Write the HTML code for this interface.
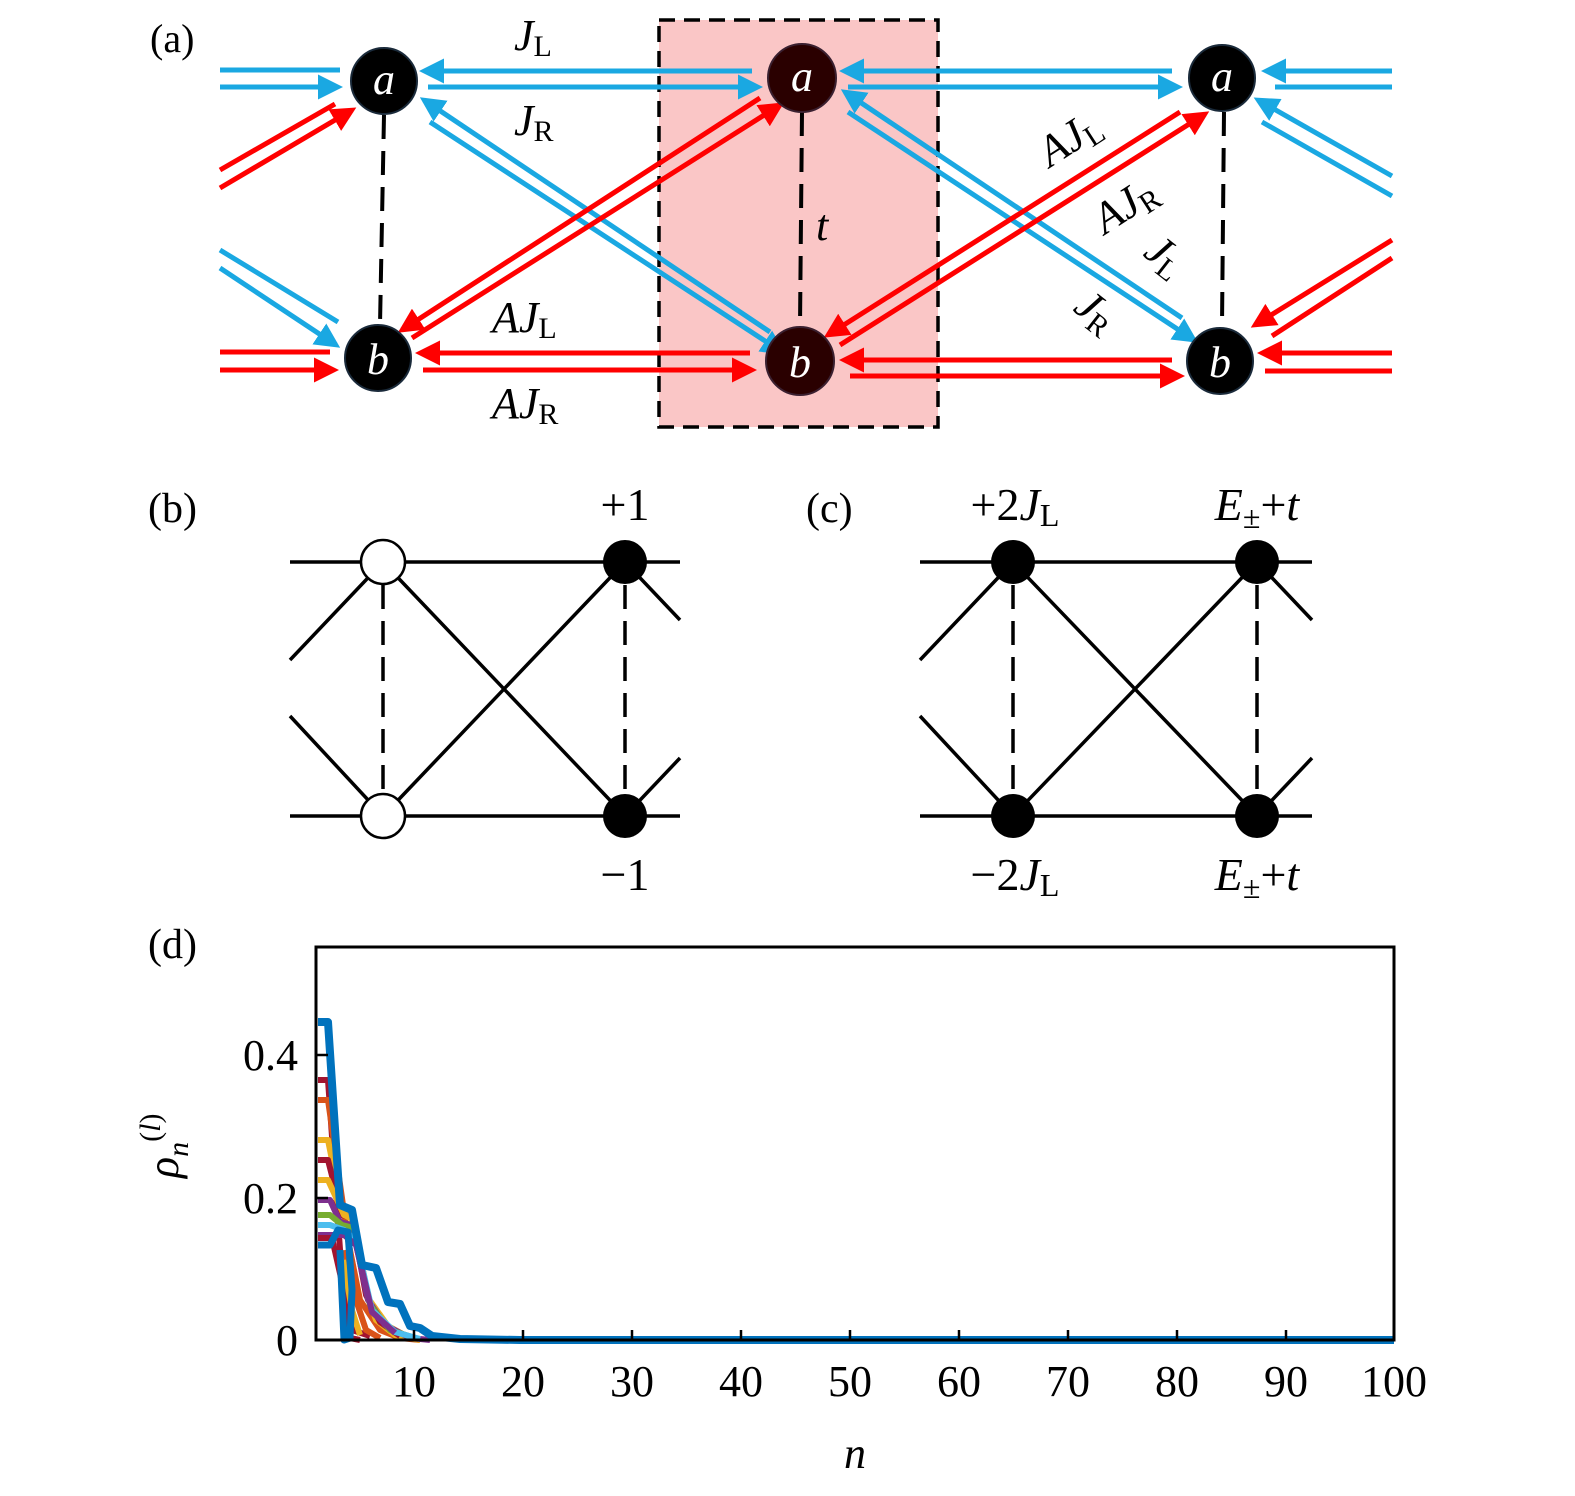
<!DOCTYPE html>
<html><head><meta charset="utf-8"><style>
html,body{margin:0;padding:0;background:#fff}
svg{display:block}
text{font-family:"Liberation Serif",serif;fill:#000}
.it{font-style:italic}
</style></head><body>
<svg width="1575" height="1496" viewBox="0 0 1575 1496" xmlns="http://www.w3.org/2000/svg">
<defs>
<marker id="hb" markerWidth="5" markerHeight="5" refX="4" refY="2.5" orient="auto" markerUnits="strokeWidth"><path d="M0,0 L5,2.5 L0,5 Z" fill="#1aa8e2"/></marker>
<marker id="hr" markerWidth="5" markerHeight="5" refX="4" refY="2.5" orient="auto" markerUnits="strokeWidth"><path d="M0,0 L5,2.5 L0,5 Z" fill="#f00"/></marker>
</defs>
<rect x="659" y="20" width="279" height="407" fill="#fac6c6" stroke="#000" stroke-width="3.5" stroke-dasharray="16,9"/>
<g stroke-width="5" fill="none">
<g stroke="#1aa8e2">
<line x1="220" y1="70" x2="340" y2="70"/>
<line x1="220" y1="87" x2="338" y2="87" marker-end="url(#hb)"/>
<line x1="752" y1="71" x2="424" y2="71" marker-end="url(#hb)"/>
<line x1="428" y1="87" x2="758" y2="87" marker-end="url(#hb)"/>
<line x1="1172" y1="71" x2="844" y2="71" marker-end="url(#hb)"/>
<line x1="848" y1="87" x2="1178" y2="87" marker-end="url(#hb)"/>
<line x1="1392" y1="71" x2="1266" y2="71" marker-end="url(#hb)"/>
<line x1="1392" y1="87" x2="1275" y2="87"/>
<line x1="770" y1="332" x2="424" y2="100" marker-end="url(#hb)"/>
<line x1="430" y1="122" x2="782" y2="352" marker-end="url(#hb)"/>
<line x1="1182" y1="318" x2="845" y2="92" marker-end="url(#hb)"/>
<line x1="848" y1="112" x2="1194" y2="340" marker-end="url(#hb)"/>
<line x1="1392" y1="176" x2="1258" y2="100" marker-end="url(#hb)"/>
<line x1="1392" y1="196" x2="1262" y2="122"/>
<line x1="220" y1="250" x2="338" y2="322"/>
<line x1="220" y1="268" x2="336" y2="345" marker-end="url(#hb)"/>
</g>
<g stroke="#f00">
<line x1="220" y1="352" x2="330" y2="352"/>
<line x1="220" y1="370" x2="334" y2="370" marker-end="url(#hr)"/>
<line x1="750" y1="353" x2="420" y2="353" marker-end="url(#hr)"/>
<line x1="423" y1="370" x2="752" y2="370" marker-end="url(#hr)"/>
<line x1="1172" y1="360" x2="844" y2="360" marker-end="url(#hr)"/>
<line x1="850" y1="376" x2="1180" y2="376" marker-end="url(#hr)"/>
<line x1="1392" y1="353" x2="1262" y2="353" marker-end="url(#hr)"/>
<line x1="1392" y1="371" x2="1265" y2="371"/>
<line x1="760" y1="98" x2="402" y2="330" marker-end="url(#hr)"/>
<line x1="412" y1="338" x2="780" y2="105" marker-end="url(#hr)"/>
<line x1="1180" y1="112" x2="828" y2="335" marker-end="url(#hr)"/>
<line x1="840" y1="345" x2="1205" y2="114" marker-end="url(#hr)"/>
<line x1="220" y1="170" x2="335" y2="104"/>
<line x1="220" y1="188" x2="352" y2="110" marker-end="url(#hr)"/>
<line x1="1392" y1="240" x2="1255" y2="325" marker-end="url(#hr)"/>
<line x1="1392" y1="258" x2="1272" y2="336"/>
</g>
</g>
<g stroke="#000" stroke-width="4" stroke-dasharray="24,12">
<line x1="384" y1="115" x2="380" y2="325"/>
<line x1="802" y1="112" x2="800" y2="326"/>
<line x1="1224" y1="112" x2="1222" y2="326"/>
</g>
<g stroke="#1a2a3a" stroke-width="2">
<circle cx="384" cy="81" r="33" fill="#000"/>
<circle cx="802" cy="78" r="34" fill="#2a0000" stroke="#3a2030"/>
<circle cx="1222" cy="78" r="33" fill="#000"/>
<circle cx="378" cy="358" r="33" fill="#000"/>
<circle cx="800" cy="361" r="34" fill="#2a0000" stroke="#3a2030"/>
<circle cx="1220" cy="361" r="33" fill="#000"/>
</g>
<g font-size="44" class="it" text-anchor="middle">
<text x="384" y="94" style="fill:#fff">a</text>
<text x="802" y="91" style="fill:#fff">a</text>
<text x="1222" y="91" style="fill:#fff">a</text>
<text x="378" y="374" style="fill:#fff">b</text>
<text x="800" y="377" style="fill:#fff">b</text>
<text x="1220" y="377" style="fill:#fff">b</text>
</g>
<text x="150" y="52" font-size="40">(a)</text>
<g font-size="44">
<text x="514" y="50"><tspan class="it">J</tspan><tspan font-size="30" dy="6">L</tspan></text>
<text x="514" y="135"><tspan class="it">J</tspan><tspan font-size="30" dy="6">R</tspan></text>
<text x="492" y="332"><tspan class="it">AJ</tspan><tspan font-size="30" dy="6">L</tspan></text>
<text x="492" y="418"><tspan class="it">AJ</tspan><tspan font-size="30" dy="6">R</tspan></text>
<text x="816" y="240" class="it">t</text>
<text transform="translate(1050,168) rotate(-33)"><tspan class="it">AJ</tspan><tspan font-size="30" dy="6">L</tspan></text>
<text transform="translate(1105,235) rotate(-33)"><tspan class="it">AJ</tspan><tspan font-size="30" dy="6">R</tspan></text>
<text transform="translate(1142,255) rotate(38)"><tspan class="it">J</tspan><tspan font-size="30" dy="6">L</tspan></text>
<text transform="translate(1072,310) rotate(38)"><tspan class="it">J</tspan><tspan font-size="30" dy="6">R</tspan></text>
</g>
<text x="148" y="522" font-size="42">(b)</text>
<g stroke="#000" stroke-width="3.5" fill="none">
<line x1="290" y1="562" x2="680" y2="562"/>
<line x1="290" y1="816" x2="680" y2="816"/>
<line x1="383" y1="562" x2="625" y2="816"/>
<line x1="625" y1="562" x2="383" y2="816"/>
<line x1="383" y1="562" x2="290" y2="660"/>
<line x1="383" y1="816" x2="290" y2="716"/>
<line x1="625" y1="562" x2="680" y2="620"/>
<line x1="625" y1="816" x2="680" y2="758"/>
<line x1="383" y1="585" x2="383" y2="793" stroke-dasharray="24,12"/>
<line x1="625" y1="585" x2="625" y2="793" stroke-dasharray="24,12"/>
</g>
<circle cx="383" cy="562" r="22" fill="#fff" stroke="#000" stroke-width="2.5"/>
<circle cx="383" cy="816" r="22" fill="#fff" stroke="#000" stroke-width="2.5"/>
<circle cx="625" cy="562" r="22" fill="#000"/>
<circle cx="625" cy="816" r="22" fill="#000"/>
<text x="625" y="520" font-size="46" text-anchor="middle">+1</text>
<text x="625" y="890" font-size="46" text-anchor="middle">−1</text>
<text x="806" y="522" font-size="42">(c)</text>
<g stroke="#000" stroke-width="3.5" fill="none">
<line x1="920" y1="562" x2="1312" y2="562"/>
<line x1="920" y1="816" x2="1312" y2="816"/>
<line x1="1013" y1="562" x2="1257" y2="816"/>
<line x1="1257" y1="562" x2="1013" y2="816"/>
<line x1="1013" y1="562" x2="920" y2="660"/>
<line x1="1013" y1="816" x2="920" y2="716"/>
<line x1="1257" y1="562" x2="1312" y2="620"/>
<line x1="1257" y1="816" x2="1312" y2="758"/>
<line x1="1013" y1="585" x2="1013" y2="793" stroke-dasharray="24,12"/>
<line x1="1257" y1="585" x2="1257" y2="793" stroke-dasharray="24,12"/>
</g>
<circle cx="1013" cy="562" r="22" fill="#000"/>
<circle cx="1013" cy="816" r="22" fill="#000"/>
<circle cx="1257" cy="562" r="22" fill="#000"/>
<circle cx="1257" cy="816" r="22" fill="#000"/>
<g font-size="46" text-anchor="middle">
<text x="1015" y="520">+2<tspan class="it">J</tspan><tspan font-size="32" dy="6">L</tspan></text>
<text x="1257" y="520"><tspan class="it">E</tspan><tspan font-size="32" dy="8">±</tspan><tspan dy="-8">+</tspan><tspan class="it">t</tspan></text>
<text x="1015" y="890">−2<tspan class="it">J</tspan><tspan font-size="32" dy="6">L</tspan></text>
<text x="1257" y="890"><tspan class="it">E</tspan><tspan font-size="32" dy="8">±</tspan><tspan dy="-8">+</tspan><tspan class="it">t</tspan></text>
</g>
<text x="148" y="958" font-size="42">(d)</text>
<g fill="none" stroke-linejoin="round" stroke-width="6">
<polyline stroke="#a2142f" points="318,1080 328,1080 345,1320 350,1338 360,1340"/>
<polyline stroke="#d95319" points="318,1100 328,1100 348,1240 360,1300 380,1330 400,1338 420,1340"/>
<polyline stroke="#edb120" points="318,1140 328,1140 342,1210 352,1212 366,1290 376,1320 395,1335 420,1340"/>
<polyline stroke="#a2142f" points="318,1160 328,1160 342,1215 352,1218 366,1295 380,1322 400,1336"/>
<polyline stroke="#edb120" points="318,1180 328,1180 344,1215 354,1220 368,1298 388,1326 410,1338"/>
<polyline stroke="#7e2f8e" points="318,1200 330,1200 340,1222 352,1225 368,1300 385,1325 410,1338 430,1340"/>
<polyline stroke="#77ac30" points="318,1215 330,1215 342,1225 354,1228 370,1305 390,1330 415,1338"/>
<polyline stroke="#4dbeee" points="318,1225 330,1225 344,1230 356,1240 372,1310 395,1332 420,1339"/>
<polyline stroke="#7e2f8e" points="318,1235 330,1235 344,1235 356,1245 372,1312 395,1333"/>
<polyline stroke="#a2142f" points="318,1238 332,1238 346,1300 352,1330 370,1336"/>
<polyline stroke="#d95319" points="345,1250 356,1300 366,1330 380,1338"/>
<polyline stroke="#edb120" points="343,1260 352,1310 360,1335"/>
<polyline stroke="#0072bd" stroke-width="8" points="318,1022 328,1022 340,1205 352,1210 362,1265 376,1268 388,1302 400,1304 410,1326 420,1328 432,1336 460,1339 520,1340 1394,1340"/>
<polyline stroke="#0072bd" stroke-width="7" points="318,1245 330,1245 338,1230 348,1232 352,1290 350,1338 344,1340 340,1250"/>
</g>
<rect x="316" y="947" width="1078" height="393" fill="none" stroke="#000" stroke-width="3"/>
<g stroke="#000" stroke-width="2.5">
<line x1="316" y1="1055" x2="328" y2="1055"/><line x1="316" y1="1198" x2="328" y2="1198"/>
<line x1="414" y1="1340" x2="414" y2="1330"/><line x1="523" y1="1340" x2="523" y2="1330"/><line x1="632" y1="1340" x2="632" y2="1330"/><line x1="741" y1="1340" x2="741" y2="1330"/><line x1="850" y1="1340" x2="850" y2="1330"/><line x1="959" y1="1340" x2="959" y2="1330"/><line x1="1068" y1="1340" x2="1068" y2="1330"/><line x1="1177" y1="1340" x2="1177" y2="1330"/><line x1="1286" y1="1340" x2="1286" y2="1330"/>
</g>
<g font-size="44" text-anchor="middle">
<text x="414" y="1396">10</text><text x="523" y="1396">20</text><text x="632" y="1396">30</text><text x="741" y="1396">40</text><text x="850" y="1396">50</text><text x="959" y="1396">60</text><text x="1068" y="1396">70</text><text x="1177" y="1396">80</text><text x="1286" y="1396">90</text><text x="1394" y="1396">100</text>
<text x="855" y="1468" class="it">n</text>
</g>
<g font-size="44" text-anchor="end">
<text x="298" y="1070">0.4</text><text x="298" y="1213">0.2</text><text x="298" y="1355">0</text>
</g>
<text transform="translate(178,1178) rotate(-90)" font-size="44"><tspan class="it">ρ</tspan><tspan font-size="30" dy="10" class="it">n</tspan><tspan font-size="30" dy="-28">(</tspan><tspan font-size="30" class="it">l</tspan><tspan font-size="30">)</tspan></text>
</svg>
</body></html>
